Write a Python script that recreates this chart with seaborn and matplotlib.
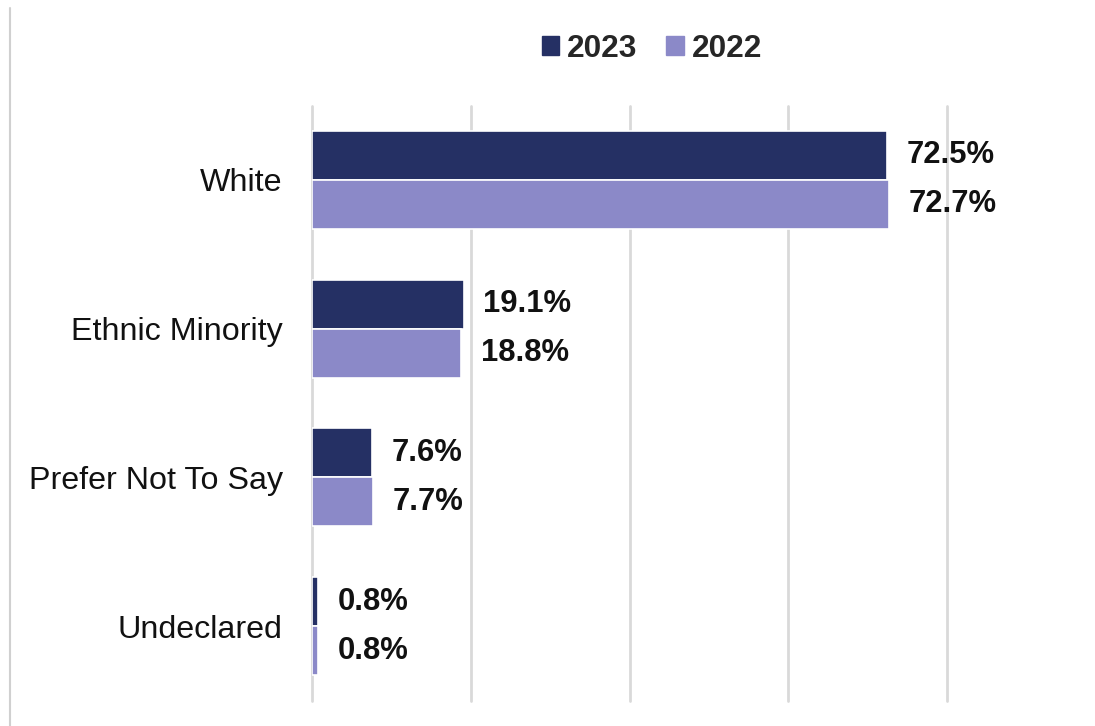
import matplotlib
matplotlib.use("Agg")
import matplotlib.pyplot as plt
from matplotlib.lines import Line2D
import seaborn as sns
import pandas as pd

categories = ["White", "Ethnic Minority", "Prefer Not To Say", "Undeclared"]
years = ["2023", "2022"]
values_2023 = [72.5, 19.1, 7.6, 0.8]
values_2022 = [72.7, 18.8, 7.7, 0.8]
colors = ["#253064", "#8B89C8"]

df = pd.DataFrame({
    "Category": categories * 2,
    "Year": ["2023"] * 4 + ["2022"] * 4,
    "Value": values_2023 + values_2022,
})

sns.set_theme(style="white")
plt.rcParams["font.family"] = ["Liberation Sans", "DejaVu Sans"]

W, H = 1095, 726
fig = plt.figure(figsize=(W / 100, H / 100), dpi=100)
ax = fig.add_axes([312 / W, 1 - 700.5 / H, (947 - 312) / W, (700.5 - 105.5) / H])

sns.barplot(data=df, y="Category", x="Value", hue="Year", hue_order=years,
            order=categories, palette=colors, orient="h", width=0.66,
            edgecolor="white", linewidth=1.2, saturation=1, ax=ax)

ax.set_xlim(0, 80)
ax.set_ylim(3.5, -0.5)
ax.set_xticks([0, 20, 40, 60, 80])
ax.set_xticklabels([])
ax.xaxis.grid(True, color="#d9d9d9", linewidth=2)
for gl in ax.get_xgridlines():
    gl.set_clip_on(False)
ax.set_axisbelow(True)
for s in ax.spines.values():
    s.set_visible(False)
ax.set_xlabel("")
ax.set_ylabel("")
ax.tick_params(axis="y", length=0, pad=21, labelsize=23.2, labelcolor="#111111")
ax.tick_params(axis="x", length=0)

for cont in ax.containers:
    ax.bar_label(cont, fmt="{:.1f}%", padding=14, fontsize=22.3,
                 fontweight="bold", color="#111111")

leg = ax.get_legend()
if leg is not None:
    leg.remove()
handles = [plt.Rectangle((0, 0), 1, 1, color=c) for c in colors]
fig.legend(handles, years, loc="center", bbox_to_anchor=(652 / W, 1 - 49 / H),
           ncol=2, frameon=False, handlelength=0.55, handleheight=0.55,
           handletextpad=0.25, columnspacing=0.9,
           prop={"size": 22.8, "weight": "bold"})

fig.add_artist(Line2D([10 / W, 10 / W], [0, 1 - 8 / H], transform=fig.transFigure,
                      color="#d0d0d0", linewidth=1.5))

fig.savefig("out.png", dpi=100, facecolor="white")
